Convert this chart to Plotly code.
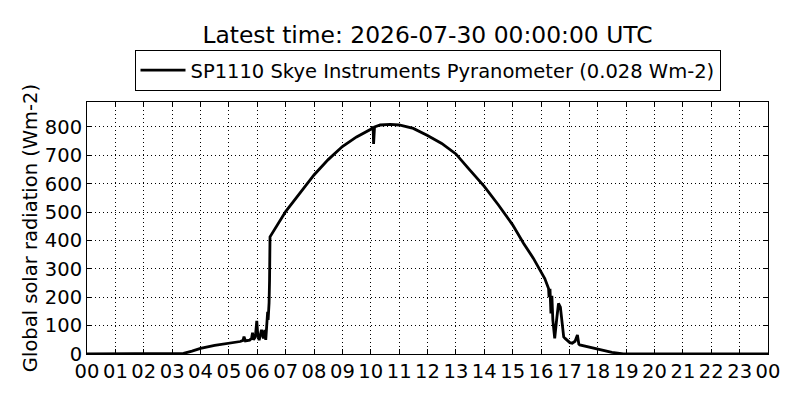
import pandas as pd
import plotly.graph_objects as go

# readings from the pyranometer over the last 24 hours
times = [
    "2026-07-29 00:00", "2026-07-29 03:12", "2026-07-29 03:24", "2026-07-29 03:42",
    "2026-07-29 04:00", "2026-07-29 04:30", "2026-07-29 05:00", "2026-07-29 05:24",
    "2026-07-29 05:30", "2026-07-29 05:32", "2026-07-29 05:35", "2026-07-29 05:44",
    "2026-07-29 05:48", "2026-07-29 05:50", "2026-07-29 05:52", "2026-07-29 05:56",
    "2026-07-29 05:59", "2026-07-29 06:01", "2026-07-29 06:04", "2026-07-29 06:07",
    "2026-07-29 06:09", "2026-07-29 06:13", "2026-07-29 06:15", "2026-07-29 06:16",
    "2026-07-29 06:18", "2026-07-29 06:20", "2026-07-29 06:22", "2026-07-29 06:23",
    "2026-07-29 06:25", "2026-07-29 06:26", "2026-07-29 06:27", "2026-07-29 07:00",
    "2026-07-29 07:30", "2026-07-29 08:00", "2026-07-29 08:30", "2026-07-29 09:00",
    "2026-07-29 09:30", "2026-07-29 10:00", "2026-07-29 10:05", "2026-07-29 10:06",
    "2026-07-29 10:08", "2026-07-29 10:20", "2026-07-29 10:41", "2026-07-29 11:00",
    "2026-07-29 11:30", "2026-07-29 12:00", "2026-07-29 12:30", "2026-07-29 13:00",
    "2026-07-29 13:26", "2026-07-29 14:00", "2026-07-29 14:30", "2026-07-29 15:00",
    "2026-07-29 15:23", "2026-07-29 15:44", "2026-07-29 16:08", "2026-07-29 16:13",
    "2026-07-29 16:16", "2026-07-29 16:17", "2026-07-29 16:19", "2026-07-29 16:21",
    "2026-07-29 16:23", "2026-07-29 16:25", "2026-07-29 16:29", "2026-07-29 16:33",
    "2026-07-29 16:37", "2026-07-29 16:41", "2026-07-29 16:45", "2026-07-29 16:48",
    "2026-07-29 16:51", "2026-07-29 16:57", "2026-07-29 17:01", "2026-07-29 17:06",
    "2026-07-29 17:12", "2026-07-29 17:17", "2026-07-29 17:20", "2026-07-29 17:22",
    "2026-07-29 18:00", "2026-07-29 18:30", "2026-07-29 18:54", "2026-07-30 00:00",
]
radiation = [
    0, 0, 2, 10,
    20, 30, 37, 44,
    48, 61, 46, 49,
    55, 75, 50, 60,
    117, 70, 49, 70,
    85, 55, 80, 85,
    50, 90, 149, 120,
    180, 260, 413, 502,
    568, 631, 685, 731,
    765, 792, 800, 740,
    800, 807, 809, 807,
    795, 770, 742, 705,
    655, 591, 525, 455,
    390, 337, 266, 240,
    231, 200, 230, 143,
    205, 120, 55, 120,
    178, 165, 100, 60,
    55, 45, 40, 38,
    45, 67, 35, 32,
    18, 6, 0, 0,
]

df = pd.DataFrame({"time": pd.to_datetime(times), "radiation": radiation})

font = "DejaVu Sans, sans-serif"

fig = go.Figure()
fig.add_trace(
    go.Scatter(
        x=df["time"],
        y=df["radiation"],
        mode="lines",
        line=dict(color="black", width=2.8),
        name="SP1110 Skye Instruments Pyranometer (0.028 Wm-2)",
    )
)

axis_style = dict(
    showline=True,
    linecolor="black",
    linewidth=1,
    mirror="allticks",
    ticks="inside",
    ticklen=5,
    tickcolor="black",
    showgrid=True,
    gridcolor="black",
    gridwidth=1,
    griddash="1px,3px",
    zeroline=False,
    automargin=False,
    tickfont=dict(size=19.5, color="black"),
)

fig.update_xaxes(
    type="date",
    range=["2026-07-29 00:00", "2026-07-30 00:00"],
    dtick=3600000,
    tickformat="%H",
    **axis_style,
)
fig.update_yaxes(
    range=[0, 888],
    dtick=100,
    title=dict(text="Global solar radiation (Wm-2)", font=dict(size=19.5, color="black"), standoff=2),
    **axis_style,
)

# the page body adds an 8px offset, so the figure is sized to fit the window
fig.update_layout(
    width=792,
    height=392,
    paper_bgcolor="white",
    plot_bgcolor="white",
    font=dict(family=font, color="black"),
    margin=dict(l=79, r=32, t=94, b=46),
    title=dict(
        text="Latest time: 2026-07-30 00:00:00 UTC",
        xref="paper",
        x=0.5,
        xanchor="center",
        y=0.931,
        yanchor="middle",
        font=dict(size=23.4, color="black"),
    ),
    showlegend=True,
    legend=dict(
        orientation="h",
        x=0.5,
        xanchor="center",
        y=1.044,
        yanchor="bottom",
        itemwidth=45,
        bordercolor="black",
        borderwidth=1,
        bgcolor="white",
        font=dict(size=19.5, color="black"),
    ),
)

fig.write_html("out.html")
